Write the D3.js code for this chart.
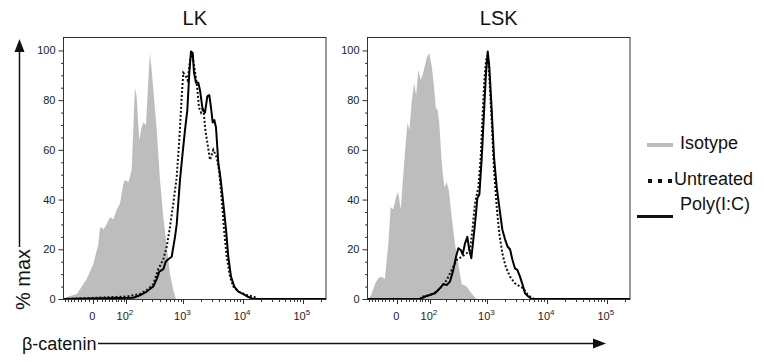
<!DOCTYPE html>
<html><head><meta charset="utf-8">
<script src="https://cdn.jsdelivr.net/npm/d3@7"></script>
<style>
html,body{margin:0;padding:0;background:#fff;}
svg{display:block;font-family:"Liberation Sans",Arial,Helvetica,sans-serif;}
</style>
</head><body>
<svg id="chart" width="764" height="362"></svg>
<script>
// ---------------- data ----------------
const panelTitles = ["LK", "LSK"];
const seriesNames = ["Isotype", "Untreated", "Poly(I:C)"];
const xLabel = "β-catenin";
const yLabel = "% max";

// [fluorescence, % of max]
const lkIsotype = [[-88,0],[-69,1],[-42,2],[-16,8],[0,14],[12,22],[16,28.5],[20,29],[25,28],[33,30],[43,33],[53,32],[64,36],[76,38.5],[88,46],[96,48],[112,47],[129,52],[148,85],[159,81.5],[177,64],[195,69],[208,71],[232,70],[255,88],[272,99],[291,92],[319,81],[355,68],[403,48],[459,33],[524,21],[595,10],[676,3.6],[750,0],[244000,0]];
const lkUntreated = [[-88,0],[104,1],[182,2],[255,4],[310,6],[377,12],[459,16],[523,21],[595,29],[676,38.5],[771,49],[852,64],[936,81.5],[995,91],[1075,90],[1180,88],[1290,96],[1392,99],[1504,94],[1668,87],[1825,77],[1972,75],[2154,77],[2326,68],[2512,63],[2786,56],[3165,60],[3608,57],[3987,51],[4376,40],[4784,28],[5308,17],[6027,9],[6845,5],[8298,3],[11628,1.6],[14796,1],[17955,0],[244000,0]];
const lkPoly = [[-88,0],[138,0.5],[182,1.5],[239,3],[310,5],[354,8],[392,11],[459,12],[503,15],[557,16],[635,17],[722,25],[771,30],[876,48],[972,59],[1063,68],[1162,76],[1255,91],[1339,99.6],[1430,99],[1504,91],[1624,87],[1775,87],[1895,84],[2102,76],[2298,75],[2512,81.5],[2712,82],[2896,77],[3093,71],[3292,72],[3513,69],[3839,55],[4210,48],[4656,38.5],[5166,28],[5642,17],[6265,9],[7113,5],[8298,3],[10065,2],[11744,1],[14796,0],[244000,0]];

const lskIsotype = [[-88,0],[-81,0.5],[-72,2],[-60,6],[-50,8.3],[-40,9],[-31,8],[-22,22],[-16,37],[-10,36],[-3,41],[2,43],[8,36],[14,49],[19,60],[25,71],[30,68],[36,79],[43,87],[49,82],[56,92],[64,88],[73,91],[86,97],[97,99],[109,93.5],[120,85.5],[131,76],[138,77],[150,71],[166,55],[185,45],[203,47],[221,44],[249,33],[283,22],[323,14],[368,6],[448,5],[510,3],[595,1],[661,0],[244000,0]];
const lskUntreated = [[-88,0],[61,0],[73,1],[100,1.6],[135,3],[166,5],[203,7.6],[249,11.7],[303,15.7],[368,17],[448,18.4],[510,19.7],[566,29],[618,38.5],[704,45],[771,57],[834,75],[887,88],[947,96],[1011,98],[1075,89.5],[1180,71],[1290,52],[1430,37],[1581,26.4],[1775,18.4],[2024,13],[2391,9],[2896,6.3],[3513,5],[3987,4.3],[4546,2.3],[5166,1],[6027,0],[244000,0]];
const lskPoly = [[-88,0],[61,0],[80,1],[100,1.6],[125,2.3],[154,4.3],[177,6],[203,5.6],[232,7],[265,11.7],[295,17],[323,20.4],[355,19.7],[383,18],[420,22.4],[459,25],[496,19.7],[536,16.4],[579,23.8],[635,33],[676,40.5],[732,42],[803,57],[876,75],[947,91],[1011,99.6],[1075,93.5],[1180,76],[1290,57],[1430,45],[1581,37],[1775,28],[1972,24],[2186,21],[2391,20],[2610,16],[2896,12.3],[3165,11.7],[3513,9],[3898,5.6],[4260,2.3],[4836,1],[5512,0],[244000,0]];

const panelData = [
  [lkIsotype, lkUntreated, lkPoly],
  [lskIsotype, lskUntreated, lskPoly]
];

// axis ticks
const xDomain = [-88, 244000];
const xMajorTicks = [0, 1e2, 1e3, 1e4, 1e5];
const xTickBase = ["0", "10", "10", "10", "10"];
const xTickExp = ["", "2", "3", "4", "5"];
const yDomain = [0, 105.4];
const yMajorTicks = [0, 20, 40, 60, 80, 100];

// ---------------- drawing ----------------
const svg = d3.select("#chart");
const B = 62; // biexponential width parameter
const top_ = 37, bottom = 299;
const panels = [{left: 63.5, right: 326}, {left: 367.5, right: 630}];

const y = d3.scaleLinear().domain(yDomain).range([bottom, top_]);

function makeX(r0, r1) {
  const lin = d3.scaleLinear()
    .domain(xDomain.map(v => Math.asinh(v / B)))
    .range([r0, r1]);
  return v => lin(Math.asinh(v / B));
}

// minor ticks
const xMinor = [];
for (let m = 1; m <= 8; m++) xMinor.push(-10 * m);
for (let m = 1; m <= 9; m++) xMinor.push(10 * m);
[100, 1000, 10000, 100000].forEach(d => { for (let m = 2; m <= 9; m++) if (d * m <= xDomain[1]) xMinor.push(d * m); });
const yMinor = d3.range(0, 105, 5).filter(v => v % 20 !== 0);

const isoColor = "#bdbdbd";

panels.forEach((p, i) => {
  const x = makeX(p.left, p.right);
  const g = svg.append("g");
  const clipId = "clip" + i;
  svg.append("clipPath").attr("id", clipId).append("rect")
    .attr("x", p.left).attr("y", top_).attr("width", p.right - p.left).attr("height", bottom - top_ + 1);

  const [iso, unt, poly] = panelData[i];
  const area = d3.area().x(d => x(d[0])).y0(y(0)).y1(d => y(d[1]));
  const line = d3.line().x(d => x(d[0])).y(d => y(d[1]));

  const plot = g.append("g").attr("clip-path", `url(#${clipId})`);
  plot.append("path").datum(iso).attr("d", area).attr("fill", isoColor);
  plot.append("path").datum(unt).attr("d", line).attr("fill", "none")
    .attr("stroke", "#111").attr("stroke-width", 2).attr("stroke-dasharray", "2,2");
  plot.append("path").datum(poly).attr("d", line).attr("fill", "none")
    .attr("stroke", "#000").attr("stroke-width", 2).attr("stroke-linejoin", "round");

  // frame
  g.append("rect").attr("x", p.left).attr("y", top_ + 0.5)
    .attr("width", p.right - p.left).attr("height", bottom - top_)
    .attr("fill", "none").attr("stroke", "#333").attr("stroke-width", 1);

  // y axis
  const ya = g.append("g").attr("transform", `translate(${p.left},0)`)
    .call(d3.axisLeft(y).tickValues(yMajorTicks).tickSize(5).tickPadding(3).tickFormat(d3.format("d")));
  ya.select(".domain").remove();
  ya.selectAll("text").attr("font-size", 11).attr("fill", "#222").attr("font-family", "Liberation Sans, Arial, sans-serif");
  ya.selectAll("line").attr("stroke", "#333");
  const ym = g.append("g").attr("transform", `translate(${p.left},0)`)
    .call(d3.axisLeft(y).tickValues(yMinor).tickSize(2.5).tickFormat(""));
  ym.select(".domain").remove();
  ym.selectAll("line").attr("stroke", "#333");

  // x axis
  const xa = g.append("g");
  xa.selectAll("line.minor").data(xMinor).join("line")
    .attr("x1", d => Math.round(x(d)) + 0.5).attr("x2", d => Math.round(x(d)) + 0.5)
    .attr("y1", bottom + 0.5).attr("y2", bottom + 3)
    .attr("stroke", "#333");
  xa.selectAll("line.major").data(xMajorTicks).join("line")
    .attr("x1", d => Math.round(x(d)) + 0.5).attr("x2", d => Math.round(x(d)) + 0.5)
    .attr("y1", bottom + 0.5).attr("y2", bottom + 5)
    .attr("stroke", "#333");
  const lbl = xa.selectAll("text").data(xMajorTicks).join("text")
    .attr("x", d => x(d) - 1).attr("y", bottom + 21)
    .attr("text-anchor", "middle").attr("font-size", 11).attr("fill", "#222");
  lbl.append("tspan").text((d, j) => xTickBase[j]);
  lbl.append("tspan").attr("dy", -5).attr("font-size", 8).text((d, j) => xTickExp[j]);

  // title
  svg.append("text").attr("x", (p.left + p.right) / 2).attr("y", 25)
    .attr("text-anchor", "middle").attr("font-size", 20).attr("fill", "#111")
    .text(panelTitles[i]);
});

// y label with arrow
svg.append("text").attr("transform", "translate(30,310) rotate(-90)")
  .attr("font-size", 20).attr("fill", "#111").text(yLabel);
svg.append("line").attr("x1", 19.5).attr("x2", 19.5).attr("y1", 247).attr("y2", 50)
  .attr("stroke", "#111").attr("stroke-width", 1.5);
svg.append("path").attr("d", "M19.5,39 L24.5,52 L14.5,52 Z").attr("fill", "#111");

// x label with arrow
svg.append("text").attr("x", 22).attr("y", 350).attr("font-size", 18).attr("fill", "#111").text(xLabel);
svg.append("line").attr("x1", 98).attr("x2", 595).attr("y1", 343.5).attr("y2", 343.5)
  .attr("stroke", "#111").attr("stroke-width", 1.5);
svg.append("path").attr("d", "M606,343.5 L593,338.5 L593,348.5 Z").attr("fill", "#111");

// legend
const leg = svg.append("g");
leg.append("line").attr("x1", 647).attr("x2", 673).attr("y1", 145).attr("y2", 145)
  .attr("stroke", isoColor).attr("stroke-width", 4);
leg.append("text").attr("x", 680).attr("y", 148.5).attr("font-size", 18).attr("fill", "#111").text(seriesNames[0]);
leg.append("line").attr("x1", 648).attr("x2", 672).attr("y1", 181).attr("y2", 181)
  .attr("stroke", "#111").attr("stroke-width", 4).attr("stroke-dasharray", "4,6");
leg.append("text").attr("x", 674).attr("y", 185).attr("font-size", 18).attr("fill", "#111").text(seriesNames[1]);
leg.append("line").attr("x1", 637).attr("x2", 673).attr("y1", 216.5).attr("y2", 216.5)
  .attr("stroke", "#111").attr("stroke-width", 3);
leg.append("text").attr("x", 680).attr("y", 210).attr("font-size", 18).attr("fill", "#111").text(seriesNames[2]);
</script>
</body></html>
